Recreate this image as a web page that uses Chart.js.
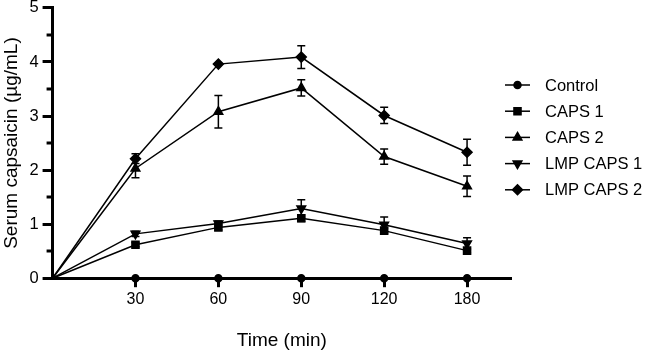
<!DOCTYPE html>
<html>
<head>
<meta charset="utf-8">
<script src="https://cdn.jsdelivr.net/npm/chart.js@4"></script>
<style>
  html, body { margin: 0; padding: 0; background: #fff; }
  #wrap { width: 646px; height: 352px; overflow: hidden; }
  #chart { display: block; margin-top: -6px; }
</style>
</head>
<body>
<div id="wrap"><canvas id="chart" width="646" height="358"></canvas></div>
<script>
// time points (min) shown as equally spaced categories
const timeLabels = ["0", "30", "60", "90", "120", "180"];
const seriesNames = ["Control", "CAPS 1", "CAPS 2", "LMP CAPS 1", "LMP CAPS 2"];

// mean serum capsaicin (ug/mL)
const control = [0, 0, 0, 0, 0, 0];
const caps1 = [0, 0.62, 0.94, 1.11, 0.88, 0.51];
const caps2 = [0, 2.03, 3.08, 3.52, 2.25, 1.70];
const lmpCaps1 = [0, 0.82, 1.01, 1.29, 0.99, 0.64];
const lmpCaps2 = [0, 2.21, 3.96, 4.09, 3.01, 2.33];

// error bars (+/-)
const controlErr = [0, 0, 0, 0, 0, 0];
const caps1Err = [0, 0.04, 0.05, 0.06, 0.05, 0.04];
const caps2Err = [0, 0.17, 0.30, 0.15, 0.14, 0.19];
const lmpCaps1Err = [0, 0.05, 0.05, 0.16, 0.14, 0.11];
const lmpCaps2Err = [0, 0.09, 0, 0.21, 0.15, 0.24];

const yTicks = [0, 1, 2, 3, 4, 5];
const yMinorTicks = [0.5, 1.5, 2.5, 3.5, 4.5];

const FONT = "'Liberation Sans', Arial, sans-serif";

const allValues = [control, caps1, caps2, lmpCaps1, lmpCaps2];
const allErrors = [controlErr, caps1Err, caps2Err, lmpCaps1Err, lmpCaps2Err];
const markers = [
    { style: "circle", radius: 3.5, rotation: 0 },
    { style: "rect", radius: 5, rotation: 0 },
    { style: "triangle", radius: 5, rotation: 0 },
    { style: "triangle", radius: 5, rotation: 180 },
    { style: "rectRot", radius: 5, rotation: 0 },
];

const datasets = allValues.map((vals, k) => ({
    label: seriesNames[k],
    data: vals.map((v, i) => ({ x: i, y: v })),
    errors: allErrors[k],
    borderColor: "#000",
    backgroundColor: "#000",
    borderWidth: 1.5,
    pointStyle: markers[k].style,
    pointRotation: markers[k].rotation,
    pointRadius: (ctx) => (ctx.dataIndex === 0 ? 0 : markers[k].radius),
    pointHoverRadius: 0,
    tension: 0,
    clip: false,
}));

// error bars drawn through the scales
const errorBars = {
    id: "errorBars",
    afterDatasetsDraw(chart) {
        const ctx = chart.ctx;
        const xs = chart.scales.x;
        const ys = chart.scales.y;
        ctx.save();
        ctx.strokeStyle = "#000";
        ctx.lineWidth = 1.5;
        chart.data.datasets.forEach((ds) => {
            ds.data.forEach((p, i) => {
                const e = ds.errors[i];
                if (!e) return;
                const x = xs.getPixelForValue(p.x);
                const yTop = ys.getPixelForValue(p.y + e);
                const yBot = ys.getPixelForValue(p.y - e);
                ctx.beginPath();
                ctx.moveTo(x, yTop);
                ctx.lineTo(x, yBot);
                ctx.moveTo(x - 4, yTop);
                ctx.lineTo(x + 4, yTop);
                ctx.moveTo(x - 4, yBot);
                ctx.lineTo(x + 4, yBot);
                ctx.stroke();
            });
        });
        ctx.restore();
    },
};

// short minor ticks on the y axis
const minorTicks = {
    id: "minorTicks",
    afterDraw(chart) {
        const ctx = chart.ctx;
        const ys = chart.scales.y;
        const left = chart.chartArea.left;
        ctx.save();
        ctx.strokeStyle = "#000";
        ctx.lineWidth = 3;
        yMinorTicks.forEach((v) => {
            const y = Math.round(ys.getPixelForValue(v));
            ctx.beginPath();
            ctx.moveTo(left - 6, y);
            ctx.lineTo(left, y);
            ctx.stroke();
        });
        ctx.restore();
    },
};

// legend: line sample with marker, then name (canvas is shifted up 6px)
const sideLegend = {
    id: "sideLegend",
    afterDraw(chart) {
        const ctx = chart.ctx;
        const x0 = 505, x1 = 530, tx = 545;
        const top = 91, gap = 26.2;
        ctx.save();
        ctx.font = "16.5px " + FONT;
        ctx.textBaseline = "middle";
        ctx.fillStyle = "#000";
        ctx.strokeStyle = "#000";
        chart.data.datasets.forEach((ds, k) => {
            const y = top + k * gap;
            ctx.lineWidth = 1.5;
            ctx.beginPath();
            ctx.moveTo(x0, y);
            ctx.lineTo(x1, y);
            ctx.stroke();
            Chart.helpers.drawPoint(ctx, {
                pointStyle: markers[k].style,
                rotation: markers[k].rotation,
                radius: markers[k].radius,
                borderWidth: 1,
            }, (x0 + x1) / 2, y);
            ctx.fillStyle = "#000";
            ctx.fillText(ds.label, tx, y + 1);
        });
        ctx.restore();
    },
};

new Chart(document.getElementById("chart"), {
    type: "line",
    data: { datasets: datasets },
    options: {
        responsive: false,
        animation: false,
        events: [],
        layout: { padding: { left: 0, right: 135, top: 0, bottom: 0 } },
        plugins: {
            legend: { display: false },
            tooltip: { enabled: false },
        },
        scales: {
            x: {
                type: "linear",
                min: 0,
                max: 5.53,
                afterBuildTicks: (axis) => {
                    axis.ticks = [1, 2, 3, 4, 5].map((v) => ({ value: v }));
                },
                ticks: {
                    color: "#000",
                    font: { family: FONT, size: 16 },
                    padding: 3,
                    maxRotation: 0,
                    callback: (v) => timeLabels[v],
                },
                grid: {
                    drawOnChartArea: false,
                    tickLength: 9,
                    tickWidth: 3,
                    tickColor: "#000",
                },
                border: { display: true, color: "#000", width: 3 },
                title: {
                    display: true,
                    text: "Time (min)",
                    color: "#000",
                    font: { family: FONT, size: 19 },
                    padding: { top: 16.8, bottom: 0 },
                },
            },
            y: {
                min: 0,
                max: 5,
                afterBuildTicks: (axis) => {
                    axis.ticks = yTicks.map((v) => ({ value: v }));
                },
                ticks: {
                    color: "#000",
                    font: { family: FONT, size: 16.5 },
                    padding: 4,
                },
                grid: {
                    drawOnChartArea: false,
                    tickLength: 10,
                    tickWidth: 3,
                    tickColor: "#000",
                },
                border: { display: true, color: "#000", width: 3 },
                title: {
                    display: true,
                    text: "Serum capsaicin (µg/mL)",
                    color: "#000",
                    font: { family: FONT, size: 19 },
                    padding: { top: 0, bottom: 2.6 },
                },
            },
        },
    },
    plugins: [errorBars, minorTicks, sideLegend],
});
</script>
</body>
</html>
